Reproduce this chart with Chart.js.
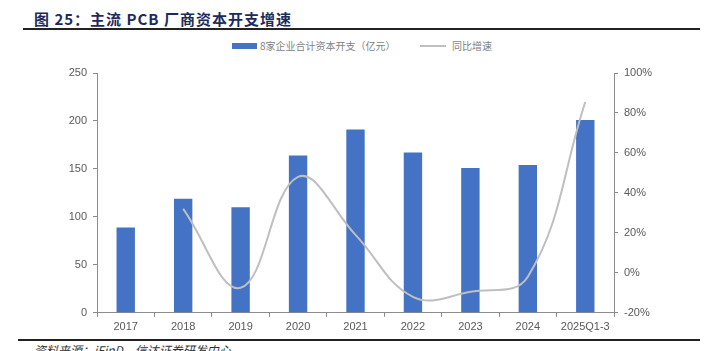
<!DOCTYPE html>
<html>
<head>
<meta charset="utf-8">
<script src="https://cdn.jsdelivr.net/npm/chart.js@4"></script>
<style>
  body { margin: 0; width: 712px; height: 351px; background: #fff; overflow: hidden; position: relative; font-family: "Liberation Sans", Arial, sans-serif; }
  #title { position: absolute; left: 34px; top: 8px; font-size: 15px; font-weight: bold; color: #1d2b5c; font-family: "Noto Sans CJK SC", sans-serif; letter-spacing: 1px; }
  #topLine { position: absolute; left: 23px; right: 12px; top: 28px; height: 2px; background: #222; }
  #legend { position: absolute; top: 38px; left: 232px; font-size: 10px; color: #7f7f7f; font-family: "Noto Sans CJK SC", serif; }
  #legend span { position: absolute; white-space: nowrap; top: 0; }
  #botLine { position: absolute; left: 18px; right: 12px; top: 339px; height: 2px; background: #222; }
  #source { position: absolute; left: 34px; top: 341px; font-size: 12px; font-style: italic; color: #333; font-family: "Noto Sans CJK SC", sans-serif; white-space: nowrap; }
  #wrap { position: absolute; left: 0; top: 60px; width: 712px; height: 278px; }
</style>
</head>
<body>
<div id="title">图 25：主流 PCB 厂商资本开支增速</div>
<div id="topLine"></div>
<div id="legend">
  <span style="left:0;top:5px;width:25px;height:6px;background:#4472c4"></span>
  <span style="left:28px">8家企业合计资本开支（亿元）</span>
  <span style="left:188px;top:7px;width:26px;height:2px;background:#bfbfbf"></span>
  <span style="left:220px">同比增速</span>
</div>
<div id="wrap"><canvas id="chart"></canvas></div>
<div id="botLine"></div>
<div id="source">资料来源：iFinD，信达证券研发中心</div>
<script>
const years = ["2017", "2018", "2019", "2020", "2021", "2022", "2023", "2024", "2025Q1-3"];
const capex = [89, 119, 110, 164, 191, 167, 151, 154, 201];
const growth = [null, 32, -7.5, 48, 19, -12, -9.5, -2, 85.5];

const axisColor = "#8c8c8c";
const tickFont = { family: "Liberation Sans, Arial, sans-serif", size: 11 };

new Chart(document.getElementById("chart"), {
    data: {
        labels: years,
        datasets: [
            {
                type: "line", label: "同比增速", data: growth, yAxisID: "y1",
                borderColor: "#bfbfbf", borderWidth: 2, pointRadius: 0, tension: 0.4,
                cubicInterpolationMode: "default", spanGaps: false, order: 0
            },
            {
                type: "bar", label: "8家企业合计资本开支（亿元）", data: capex, yAxisID: "y",
                backgroundColor: "#4472c4", barPercentage: 0.32, categoryPercentage: 1, order: 1
            }
        ]
    },
    options: {
        responsive: true, maintainAspectRatio: false, animation: false,
        layout: { padding: { top: 13, bottom: 0, left: 0, right: 0 } },
        plugins: { legend: { display: false }, tooltip: { enabled: false } },
        scales: {
            x: {
                offset: true,
                grid: { display: true, drawOnChartArea: false, offset: true, color: axisColor, tickLength: 4 },
                border: { color: axisColor, width: 1 },
                ticks: { color: "#595959", font: tickFont, padding: 4, maxRotation: 0 }
            },
            y: {
                position: "left", min: 0, max: 250,
                ticks: { stepSize: 50, color: "#595959", font: tickFont, padding: 6 },
                grid: { drawOnChartArea: false, color: axisColor, tickLength: 4 },
                border: { color: axisColor },
                afterFit: (s) => { s.width = 97; }
            },
            y1: {
                position: "right", min: -20, max: 100,
                ticks: { stepSize: 20, color: "#595959", font: tickFont, padding: 6, callback: v => v + "%" },
                grid: { drawOnChartArea: false, color: axisColor, tickLength: 4 },
                border: { color: axisColor },
                afterFit: (s) => { s.width = 98; }
            }
        }
    }
});
</script>
</body>
</html>
